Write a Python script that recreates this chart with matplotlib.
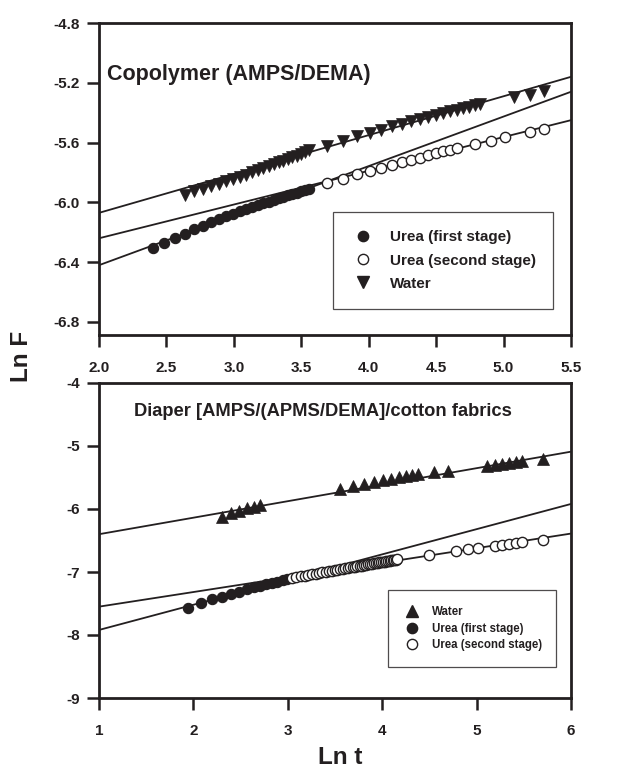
import matplotlib
matplotlib.use("Agg")
import matplotlib.pyplot as plt
from matplotlib.lines import Line2D

plt.rcParams['font.family'] = ['Liberation Sans', 'DejaVu Sans']
plt.rcParams['font.weight'] = 'bold'

# ---------------- Top panel: Copolymer (AMPS/DEMA) ----------------
top_title = "Copolymer (AMPS/DEMA)"
top_urea1_x = [2.398, 2.485, 2.565, 2.639, 2.708, 2.773, 2.833, 2.890, 2.944, 2.996,
               3.045, 3.091, 3.135, 3.178, 3.219, 3.258, 3.296, 3.332, 3.367, 3.401,
               3.434, 3.466, 3.497, 3.526, 3.555]
top_urea1_y = [-6.303, -6.272, -6.236, -6.209, -6.180, -6.156, -6.133, -6.113, -6.093, -6.075,
               -6.058, -6.044, -6.031, -6.018, -6.006, -5.995, -5.984, -5.973, -5.963, -5.953,
               -5.943, -5.934, -5.925, -5.916, -5.908]
top_urea2_x = [3.689, 3.807, 3.912, 4.007, 4.094, 4.174, 4.248, 4.317, 4.382, 4.443,
               4.500, 4.554, 4.605, 4.654, 4.787, 4.905, 5.011, 5.193, 5.298]
top_urea2_y = [-5.870, -5.843, -5.812, -5.790, -5.768, -5.748, -5.730, -5.714, -5.701, -5.685,
               -5.672, -5.658, -5.650, -5.638, -5.612, -5.589, -5.563, -5.529, -5.509]
top_water_x = [2.639, 2.708, 2.773, 2.833, 2.890, 2.944, 2.996, 3.045, 3.091, 3.135,
               3.178, 3.219, 3.258, 3.296, 3.332, 3.367, 3.401, 3.434, 3.466, 3.497,
               3.526, 3.555, 3.689, 3.807, 3.912, 4.007, 4.094, 4.174, 4.248, 4.317,
               4.382, 4.443, 4.500, 4.554, 4.605, 4.654, 4.700, 4.745, 4.787, 4.828,
               5.075, 5.193, 5.298]
top_water_y = [-5.953, -5.926, -5.908, -5.890, -5.875, -5.859, -5.846, -5.830, -5.815, -5.800,
               -5.786, -5.772, -5.759, -5.746, -5.733, -5.721, -5.710, -5.698, -5.687, -5.675,
               -5.664, -5.652, -5.623, -5.589, -5.558, -5.536, -5.513, -5.491, -5.473, -5.456,
               -5.440, -5.427, -5.413, -5.400, -5.389, -5.380, -5.369, -5.360, -5.351, -5.344,
               -5.295, -5.279, -5.255]
top_fit_x = [2.0, 5.5]
top_fit_water_y = [-6.07, -5.16]
top_fit_urea1_y = [-6.42, -5.26]
top_fit_urea2_y = [-6.24, -5.45]
top_xticks = [2.0, 2.5, 3.0, 3.5, 4.0, 4.5, 5.0, 5.5]
top_yticks = [-6.8, -6.4, -6.0, -5.6, -5.2, -4.8]
top_legend = ["Urea (first stage)", "Urea (second stage)", "Water"]

# ---------------- Bottom panel: Diaper ----------------
bot_title = "Diaper [AMPS/(APMS/DEMA]/cotton fabrics"
bot_water_x = [2.303, 2.398, 2.485, 2.565, 2.639, 2.708, 3.555, 3.689, 3.807, 3.912,
               4.007, 4.094, 4.174, 4.248, 4.317, 4.382, 4.554, 4.700, 5.106, 5.193,
               5.273, 5.347, 5.416, 5.481, 5.704]
bot_water_y = [-6.122, -6.070, -6.027, -5.990, -5.964, -5.943, -5.684, -5.637, -5.600, -5.573,
               -5.547, -5.520, -5.499, -5.484, -5.468, -5.452, -5.420, -5.394, -5.320, -5.299,
               -5.283, -5.267, -5.257, -5.246, -5.214]
bot_urea1_x = [1.946, 2.079, 2.197, 2.303, 2.398, 2.485, 2.565, 2.639, 2.708, 2.773,
               2.833, 2.890, 2.944, 2.996]
bot_urea1_y = [-7.564, -7.495, -7.432, -7.390, -7.347, -7.310, -7.273, -7.246, -7.221, -7.197,
               -7.175, -7.154, -7.134, -7.115]
bot_urea2_x = [3.045, 3.091, 3.135, 3.178, 3.219, 3.258, 3.296, 3.332, 3.367, 3.401,
               3.434, 3.466, 3.497, 3.526, 3.555, 3.584, 3.611, 3.638, 3.664, 3.689,
               3.714, 3.738, 3.761, 3.784, 3.807, 3.829, 3.850, 3.871, 3.892, 3.912,
               3.932, 3.951, 3.970, 3.989, 4.007, 4.025, 4.043, 4.060, 4.078, 4.094,
               4.111, 4.127, 4.143, 4.159, 4.500, 4.787, 4.905, 5.011, 5.193, 5.273,
               5.347, 5.416, 5.481, 5.704]
bot_urea2_y = [-7.090, -7.078, -7.066, -7.056, -7.044, -7.034, -7.025, -7.014, -7.006, -6.996,
               -6.988, -6.980, -6.971, -6.964, -6.957, -6.949, -6.942, -6.935, -6.928, -6.922,
               -6.915, -6.909, -6.903, -6.897, -6.891, -6.885, -6.880, -6.874, -6.869, -6.864,
               -6.858, -6.853, -6.848, -6.843, -6.839, -6.834, -6.829, -6.825, -6.820, -6.816,
               -6.812, -6.807, -6.803, -6.799, -6.730, -6.661, -6.635, -6.614, -6.587, -6.571,
               -6.555, -6.545, -6.529, -6.492]
bot_fit_x = [1.0, 6.0]
bot_fit_water_y = [-6.40, -5.09]
bot_fit_urea1_y = [-7.92, -5.92]
bot_fit_urea2_y = [-7.55, -6.39]
bot_xticks = [1, 2, 3, 4, 5, 6]
bot_yticks = [-9, -8, -7, -6, -5, -4]
bot_legend = ["Water", "Urea (first stage)", "Urea (second stage)"]

xlabel = "Ln t"
ylabel = "Ln F"

INK = '#231f20'
fig = plt.figure(figsize=(6.39, 7.70), dpi=100)
ax1 = fig.add_axes([99/639, 1-335/770, 472/639, 312/770])
ax2 = fig.add_axes([99/639, 1-698/770, 472/639, 315/770])

LW = 1.3
MS = 7.4
MT = 8.2


def style(ax, xt, yt, xfmt, yfmt):
    for s in ax.spines.values():
        s.set_linewidth(2.0)
        s.set_color(INK)
    ax.set_xticks(xt)
    ax.set_yticks(yt)
    ax.set_xticklabels([xfmt.format(v) for v in xt], fontsize=11, fontweight='bold', color=INK)
    ax.set_yticklabels([yfmt.format(v) for v in yt], fontsize=11, fontweight='bold', color=INK)
    ax.tick_params(axis='both', direction='out', length=8.5, width=1.8, color=INK)
    ax.tick_params(axis='x', pad=10)
    ax.tick_params(axis='y', pad=5.5)


# Top panel
for fy in (top_fit_water_y, top_fit_urea1_y, top_fit_urea2_y):
    ax1.plot(top_fit_x, fy, color=INK, lw=LW)
ax1.plot(top_urea1_x, top_urea1_y, 'o', ms=MS, mfc=INK, mec=INK, mew=0.8, ls='none')
ax1.plot(top_urea2_x, top_urea2_y, 'o', ms=MS, mfc='white', mec=INK, mew=1.0, ls='none')
ax1.plot(top_water_x, top_water_y, 'v', ms=MT, mfc=INK, mec=INK, mew=0.5, ls='none')
ax1.set_xlim(2.0, 5.5)
ax1.set_ylim(-6.887, -4.8)
style(ax1, top_xticks, top_yticks, "{:.1f}", "{:.1f}")
ax1.text(0.016, 0.835, top_title, transform=ax1.transAxes, fontsize=15.5, fontweight='bold',
         color=INK, va='center', ha='left')
h1 = [Line2D([], [], marker='o', ls='none', ms=MS, mfc=INK, mec=INK),
      Line2D([], [], marker='o', ls='none', ms=MS, mfc='white', mec=INK, mew=1.0),
      Line2D([], [], marker='v', ls='none', ms=MT, mfc=INK, mec=INK)]
leg1 = ax1.legend(h1, top_legend, loc='lower left', bbox_to_anchor=(234/472, 26/312, 220/472, 97/312),
                  mode='expand', frameon=True, fancybox=False, edgecolor=INK,
                  prop={'weight': 'bold', 'size': 11}, handletextpad=1.0, labelspacing=0.6,
                  borderpad=1.2, handlelength=1.5, borderaxespad=0)
leg1.get_frame().set_linewidth(0.9)
for t in leg1.get_texts():
    t.set_color(INK)

# Bottom panel
for fy in (bot_fit_water_y, bot_fit_urea1_y, bot_fit_urea2_y):
    ax2.plot(bot_fit_x, fy, color=INK, lw=LW)
ax2.plot(bot_water_x, bot_water_y, '^', ms=MT, mfc=INK, mec=INK, mew=0.5, ls='none')
ax2.plot(bot_urea1_x, bot_urea1_y, 'o', ms=MS, mfc=INK, mec=INK, mew=0.8, ls='none')
ax2.plot(bot_urea2_x, bot_urea2_y, 'o', ms=MS, mfc='white', mec=INK, mew=1.0, ls='none')
ax2.set_xlim(1, 6)
ax2.set_ylim(-9, -4)
style(ax2, bot_xticks, bot_yticks, "{:d}", "{:d}")
ax2.text(0.074, 0.908, bot_title, transform=ax2.transAxes, fontsize=13.2, fontweight='bold',
         color=INK, va='center', ha='left')
h2 = [Line2D([], [], marker='^', ls='none', ms=MT, mfc=INK, mec=INK),
      Line2D([], [], marker='o', ls='none', ms=MS, mfc=INK, mec=INK),
      Line2D([], [], marker='o', ls='none', ms=MS, mfc='white', mec=INK, mew=1.0)]
leg2 = ax2.legend(h2, bot_legend, loc='lower left', bbox_to_anchor=(289/472, 31/315, 168/472, 78/315),
                  mode='expand', frameon=True, fancybox=False, edgecolor=INK,
                  prop={'weight': 'bold', 'size': 8.3}, handletextpad=1.0, labelspacing=0.42,
                  borderpad=1.35, handlelength=1.5, borderaxespad=0)
leg2.get_frame().set_linewidth(0.9)
for t in leg2.get_texts():
    t.set_color(INK)

fig.text(21/639, 1-356/770, ylabel, rotation=90, fontsize=17.5, fontweight='bold',
         color=INK, ha='center', va='center')
fig.text(340/639, 1-757/770, xlabel, fontsize=17.5, fontweight='bold',
         color=INK, ha='center', va='center')

fig.savefig("out.png", dpi=100)
